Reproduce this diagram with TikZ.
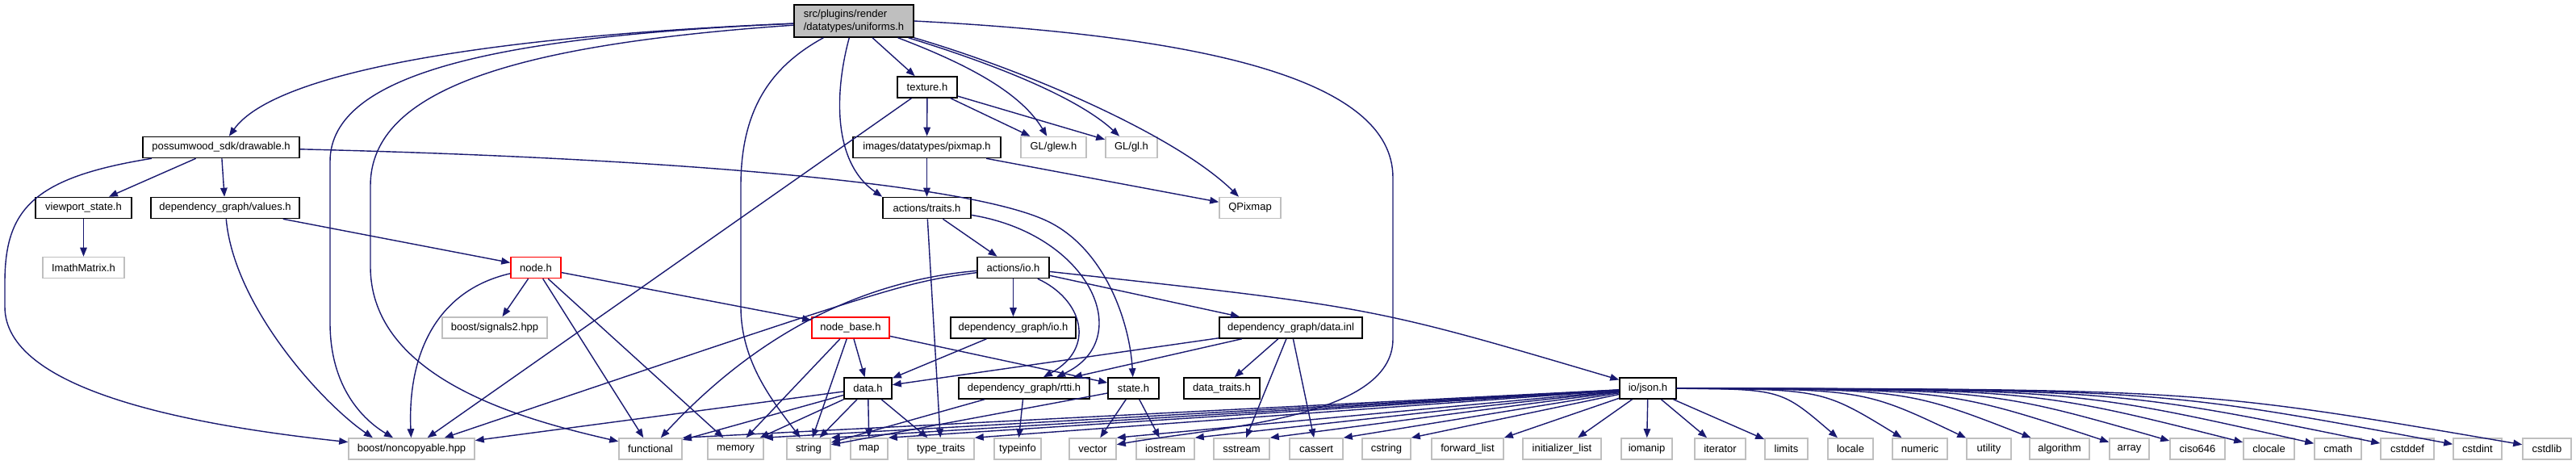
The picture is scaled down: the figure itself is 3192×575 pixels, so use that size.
\documentclass[tikz,border=0pt]{standalone}
\usepackage{fontspec}
\setmainfont{Liberation Sans}
\usepackage{tikz}
\usetikzlibrary{arrows.meta}

\definecolor{edgeblue}{HTML}{191970}
\definecolor{sysgray}{HTML}{BFBFBF}
\definecolor{nodered}{HTML}{FF0000}

\tikzset{
 box/.style={inner sep=0pt,minimum height=26*0.02cm,minimum width=#1*0.02cm,
  line width=0.9pt,fill=white,font=\fontsize{7.4}{8.8}\selectfont},
 hdr/.style={box=#1,draw=black},
 sys/.style={box=#1,draw=sysgray},
 redhdr/.style={box=#1,draw=nodered},
 dep/.style={draw=edgeblue,line width=0.8pt,-{Triangle[length=0.22cm,width=0.17cm]}},
}

\begin{document}
\begin{tikzpicture}[x=0.02cm,y=-0.02cm]
 \useasboundingbox (0,0) rectangle (3192,575);
 % headers of the project
 \node[hdr=148,minimum height=40*0.02cm,fill=sysgray,align=left] (uni) at (1058,26)
  {src/plugins/render\\/datatypes/uniforms.h};
 \node[hdr=74] (tex) at (1149,108) {texture.h};
 \node[hdr=194] (drawable) at (274,182.5) {possumwood\_sdk/drawable.h};
 \node[hdr=183] (pixmap) at (1148.5,182.5) {images/datatypes/pixmap.h};
 \node[sys=81] (glew) at (1305.5,182.5) {GL/glew.h};
 \node[sys=64] (gl) at (1402,182.5) {GL/gl.h};
 \node[hdr=119] (viewport) at (103.5,257.5) {viewport\_state.h};
 \node[hdr=184] (values) at (279,257.5) {dependency\_graph/values.h};
 \node[hdr=109] (traits) at (1148.5,257.5) {actions/traits.h};
 \node[sys=76] (qpixmap) at (1549,257.5) {QPixmap};
 \node[sys=101] (imath) at (103.5,331.5) {ImathMatrix.h};
 \node[redhdr=62] (nodeh) at (664,331.5) {node.h};
 \node[hdr=89] (aio) at (1255.5,331.5) {actions/io.h};
 \node[sys=130] (signals) at (613,406) {boost/signals2.hpp};
 \node[redhdr=96] (nodebase) at (1054,406) {node\_base.h};
 \node[hdr=155] (dgio) at (1255.5,406) {dependency\_graph/io.h};
 \node[hdr=177] (datainl) at (1599.5,406) {dependency\_graph/data.inl};
 \node[hdr=59] (data) at (1075.5,481) {data.h};
 \node[hdr=162] (rtti) at (1269,481) {dependency\_graph/rtti.h};
 \node[hdr=63] (state) at (1404.5,481) {state.h};
 \node[hdr=94] (datatraits) at (1514,481) {data\_traits.h};
 \node[hdr=70] (json) at (2042,481) {io/json.h};
 % system headers
 \node[sys=156] (noncp) at (510,556) {boost/noncopyable.hpp};
 \node[sys=78] (func) at (806,556) {functional};
 \node[sys=69] (mem) at (911.5,556) {memory};
 \node[sys=54] (str) at (1002,556) {string};
 \node[sys=46] (map) at (1077,556) {map};
 \node[sys=82] (tt) at (1166,556) {type\_traits};
 \node[sys=58] (ti) at (1261,556) {typeinfo};
 \node[sys=58] (vec) at (1354,556) {vector};
 \node[sys=72] (ios) at (1444,556) {iostream};
 \node[sys=69] (sst) at (1538.5,556) {sstream};
 \node[sys=66] (cas) at (1631,556) {cassert};
 \node[sys=60] (cstr) at (1718,556) {cstring};
 \node[sys=89] (fwd) at (1818.5,556) {forward\_list};
 \node[sys=97] (init) at (1935.5,556) {initializer\_list};
 \node[sys=63] (ioma) at (2040.5,556) {iomanip};
 \node[sys=63] (iter) at (2131.5,556) {iterator};
 \node[sys=53] (lim) at (2213.5,556) {limits};
 \node[sys=56] (loc) at (2293,556) {locale};
 \node[sys=68] (num) at (2379,556) {numeric};
 \node[sys=55] (util) at (2464.5,556) {utility};
 \node[sys=74] (alg) at (2552,556) {algorithm};
 \node[sys=49] (arr) at (2638.5,556) {array};
 \node[sys=68] (ciso) at (2723,556) {ciso646};
 \node[sys=63] (cloc) at (2811.5,556) {clocale};
 \node[sys=58] (cmath) at (2897,556) {cmath};
 \node[sys=66] (cstdd) at (2983,556) {cstddef};
 \node[sys=60] (cstdi) at (3070,556) {cstdint};
 \node[sys=60] (cstdl) at (3156,556) {cstdlib};

 % uniforms.h
 \draw[dep] (uni) .. controls (600,45) and (340,90) .. (drawable);
 \draw[dep] (uni) .. controls (620,45) and (409,90) .. (409,200) -- (409,400)
  .. controls (409,480) and (450,520) .. (noncp);
 \draw[dep] (uni) .. controls (640,55) and (459,110) .. (459,230) -- (459,330)
  .. controls (459,470) and (650,520) .. (func);
 \draw[dep] (uni) .. controls (960,80) and (918,130) .. (918,230) -- (918,380)
  .. controls (918,450) and (960,500) .. (str);
 \draw[dep] (uni) -- (tex);
 \draw[dep] (uni) .. controls (1035,110) and (1030,200) .. (traits.166);
 \draw[dep] (uni) .. controls (1200,80) and (1265,115) .. (glew);
 \draw[dep] (uni) .. controls (1250,85) and (1340,125) .. (gl);
 \draw[dep] (uni.south east) .. controls (1280,90) and (1460,170) .. (qpixmap);
 \draw[dep] (uni.east) .. controls (1500,45) and (1726,100) .. (1726,220) -- (1726,420)
  .. controls (1726,520) and (1500,530) .. (vec);
 % texture.h, pixmap.h
 \draw[dep] (tex) -- (noncp);
 \draw[dep] (tex) -- (pixmap);
 \draw[dep] (tex) -- (glew);
 \draw[dep] (tex) -- (gl);
 \draw[dep] (pixmap) -- (traits);
 \draw[dep] (pixmap) -- (qpixmap);
 % drawable.h
 \draw[dep] (drawable) -- (viewport);
 \draw[dep] (drawable) -- (values);
 \draw[dep] (drawable) .. controls (40,220) and (6,260) .. (6,350) -- (6,380)
  .. controls (6,480) and (220,525) .. (noncp);
 \draw[dep] (drawable) .. controls (800,195) and (1200,225) .. (1300,275)
  .. controls (1370,310) and (1400,400) .. (state);
 \draw[dep] (viewport) -- (imath);
 \draw[dep] (values) .. controls (290,380) and (400,500) .. (noncp.164);
 \draw[dep] (values) -- (nodeh);
 % node.h, node_base.h
 \draw[dep] (nodeh) .. controls (540,360) and (505,440) .. (noncp);
 \draw[dep] (nodeh) -- (signals);
 \draw[dep] (nodeh) -- (func);
 \draw[dep] (nodeh) -- (mem);
 \draw[dep] (nodeh) -- (nodebase);
 \draw[dep] (nodebase) -- (data);
 \draw[dep] (nodebase) -- (mem);
 \draw[dep] (nodebase) -- (str);
 \draw[dep] (nodebase) -- (state);
 % actions
 \draw[dep] (traits) -- (aio);
 \draw[dep] (traits) -- (tt);
 \draw[dep] (traits) .. controls (1350,290) and (1410,420) .. (rtti.19);
 \draw[dep] (aio) .. controls (1340,370) and (1360,430) .. (rtti.30);
 \draw[dep] (aio) -- (dgio);
 \draw[dep] (aio) -- (datainl);
 \draw[dep] (aio) .. controls (1700,380) .. (json);
 \draw[dep] (aio) .. controls (1120,350) .. (noncp);
 \draw[dep] (aio) .. controls (1100,345) and (960,390) .. (func);
 % dependency_graph
 \draw[dep] (dgio) -- (data);
 \draw[dep] (datainl) -- (data);
 \draw[dep] (datainl) -- (rtti);
 \draw[dep] (datainl) -- (datatraits);
 \draw[dep] (datainl) -- (sst);
 \draw[dep] (datainl) -- (cas);
 \draw[dep] (data) -- (noncp);
 \draw[dep] (data) -- (func);
 \draw[dep] (data) -- (mem);
 \draw[dep] (data) -- (str);
 \draw[dep] (data) -- (map);
 \draw[dep] (data) -- (tt);
 \draw[dep] (rtti) -- (ti);
 \draw[dep] (rtti) -- (str);
 \draw[dep] (state) -- (vec);
 \draw[dep] (state) -- (ios);
 \draw[dep] (state) -- (str);
 % io/json.h
 \draw[dep] (json) -- (func.north east);
 \draw[dep] (json) -- (mem.north east);
 \draw[dep] (json) -- (str.north east);
 \draw[dep] (json) -- (map.north east);
 \draw[dep] (json) -- (tt.north east);
 \draw[dep] (json) -- (vec.north east);
 \draw[dep] (json) -- (ios.north east);
 \draw[dep] (json) -- (sst.north east);
 \draw[dep] (json) -- (cas.north east);
 \draw[dep] (json) -- (cstr.north east);
 \draw[dep] (json) -- (fwd.north east);
 \draw[dep] (json) -- (init);
 \draw[dep] (json) -- (ioma);
 \draw[dep] (json) -- (iter);
 \draw[dep] (json) -- (lim);
 \draw[dep] (json) .. controls (2207,482) .. (loc);
 \draw[dep] (json) .. controls (2258,482) .. (num);
 \draw[dep] (json) .. controls (2309,482) .. (util);
 \draw[dep] (json) .. controls (2362,482) .. (alg);
 \draw[dep] (json) .. controls (2414,482) .. (arr);
 \draw[dep] (json) .. controls (2465,482) .. (ciso);
 \draw[dep] (json) .. controls (2518,482) .. (cloc);
 \draw[dep] (json) .. controls (2569,482) .. (cmath);
 \draw[dep] (json) .. controls (2621,482) .. (cstdd);
 \draw[dep] (json) .. controls (2673,482) .. (cstdi);
 \draw[dep] (json) .. controls (2724,482) .. (cstdl);
\end{tikzpicture}
\end{document}
